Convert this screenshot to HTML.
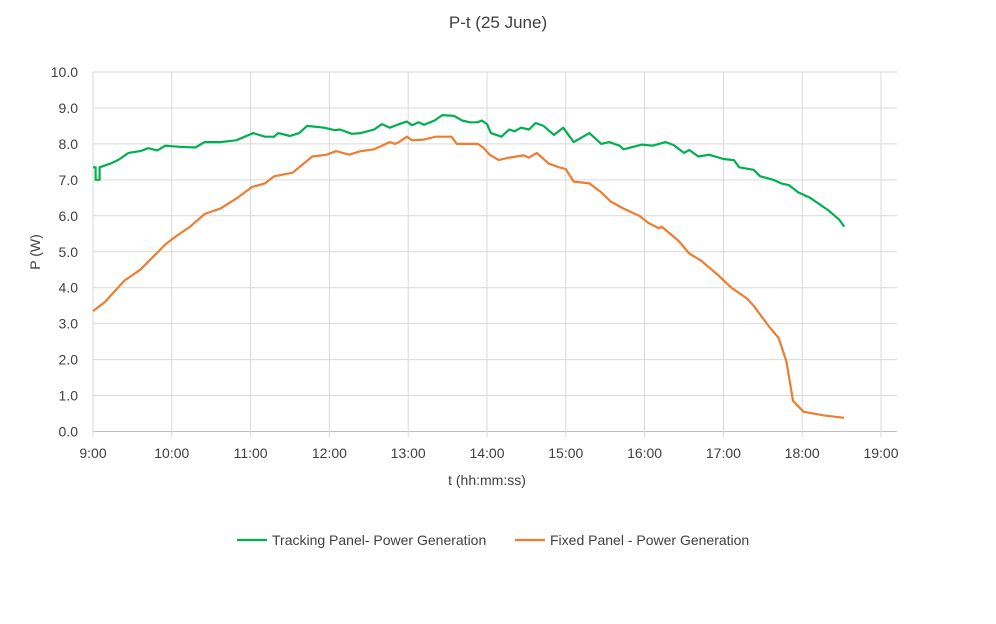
<!DOCTYPE html>
<html><head><meta charset="utf-8"><style>
body{margin:0;background:#fff;font-family:"Liberation Sans",sans-serif}
svg text{font-family:"Liberation Sans",sans-serif;fill:#404040}
</style></head><body>
<svg id="c" width="996" height="619"></svg>
<script>
const yTicks=[0,1,2,3,4,5,6,7,8,9,10];
const xTicks=["9:00","10:00","11:00","12:00","13:00","14:00","15:00","16:00","17:00","18:00","19:00"];
const trackMin=[0,2,2,5,5,13,19,27,36,42,49,55,66,78,85,97,109,122,131,138,141,150,157,163,176,184,188,197,204,214,220,226,233,239,243,248,252,260,266,275,281,287,293,296,300,303,311,317,321,326,332,337,343,351,358,366,378,387,393,401,404,418,426,436,442,450,454,461,469,480,488,492,503,508,518,524,530,537,546,554,560,568,572];
const trackVal=[7.35,7.35,7.0,7.0,7.35,7.45,7.55,7.75,7.8,7.88,7.82,7.95,7.92,7.9,8.05,8.05,8.1,8.3,8.2,8.2,8.3,8.22,8.3,8.5,8.45,8.38,8.4,8.28,8.3,8.4,8.55,8.45,8.55,8.62,8.52,8.6,8.53,8.65,8.8,8.78,8.65,8.6,8.6,8.65,8.55,8.3,8.2,8.4,8.35,8.45,8.4,8.58,8.5,8.25,8.45,8.05,8.3,8.0,8.05,7.95,7.85,7.98,7.95,8.05,7.97,7.75,7.83,7.65,7.7,7.58,7.55,7.35,7.28,7.1,7.0,6.9,6.85,6.65,6.5,6.3,6.15,5.9,5.7];
const fixedMin=[0,9,24,36,55,62,74,85,97,110,121,131,138,152,167,178,185,195,204,214,226,230,233,239,243,252,261,273,277,293,297,302,309,317,328,332,338,347,355,360,366,378,387,394,404,416,423,431,433,446,454,463,476,486,498,503,508,514,522,528,533,541,556,572];
const fixedVal=[3.35,3.6,4.2,4.5,5.2,5.4,5.7,6.05,6.2,6.5,6.8,6.9,7.1,7.2,7.65,7.7,7.8,7.7,7.8,7.85,8.05,8.0,8.05,8.2,8.1,8.12,8.2,8.2,8.0,8.0,7.9,7.7,7.55,7.62,7.68,7.62,7.75,7.45,7.35,7.3,6.95,6.9,6.65,6.4,6.2,6.0,5.8,5.65,5.7,5.3,4.95,4.75,4.35,4.0,3.7,3.5,3.25,2.95,2.6,1.95,0.85,0.55,0.45,0.38];
const NS="http://www.w3.org/2000/svg",svg=document.getElementById('c');
const X=m=>93+m/60*78.8, Y=v=>431.5-v*35.95;
function mk(t,a,p){const e=document.createElementNS(NS,t);for(const k in a)e.setAttribute(k,a[k]);(p||svg).appendChild(e);return e;}
let t=mk('text',{x:498,y:28,'text-anchor':'middle','font-size':17});t.textContent='P-t (25 June)';


yTicks.forEach(v=>{
 const l=mk('line',{x1:93,x2:897,y1:Y(v),y2:Y(v),stroke:v?'#d9d9d9':'#bfbfbf','stroke-width':1});
 
 
 const s=mk('text',{x:78,y:Y(v)+5,'text-anchor':'end','font-size':14});s.textContent=v.toFixed(1);
 
 
});
xTicks.forEach((lab,i)=>{
 const x=X(i*60);
 const l=mk('line',{x1:x,x2:x,y1:Y(10),y2:437,stroke:'#d9d9d9','stroke-width':1});
 
 
 const s=mk('text',{x:x,y:458,'text-anchor':'middle','font-size':14});s.textContent=lab;
 
 
});
t=mk('text',{x:487,y:485,'text-anchor':'middle','font-size':14});t.textContent='t (hh:mm:ss)';


t=mk('text',{x:0,y:0,'text-anchor':'middle','font-size':14,transform:'translate(40,252) rotate(-90)'});t.textContent='P (W)';


function line(ms,vs,col,name){
 const p=mk('polyline',{points:ms.map((m,i)=>X(m).toFixed(1)+','+Y(vs[i]).toFixed(1)).join(' '),fill:'none',stroke:col,'stroke-width':2.2,'stroke-linejoin':'round'});
 
 
}
line(trackMin,trackVal,'#00b050','tracking-series-line');
line(fixedMin,fixedVal,'#ed7d31','fixed-series-line');
function leg(x,col,txt,name){
 const g=mk('g',{});
 
 
 mk('line',{x1:x,x2:x+30,y1:540,y2:540,stroke:col,'stroke-width':2.2},g);
 const s=mk('text',{x:x+35,y:545,'font-size':14},g);s.textContent=txt;
}
leg(237,'#00b050','Tracking Panel- Power Generation','legend-entry-tracking');
leg(515,'#ed7d31','Fixed Panel - Power Generation','legend-entry-fixed');
</script>
</body></html>
